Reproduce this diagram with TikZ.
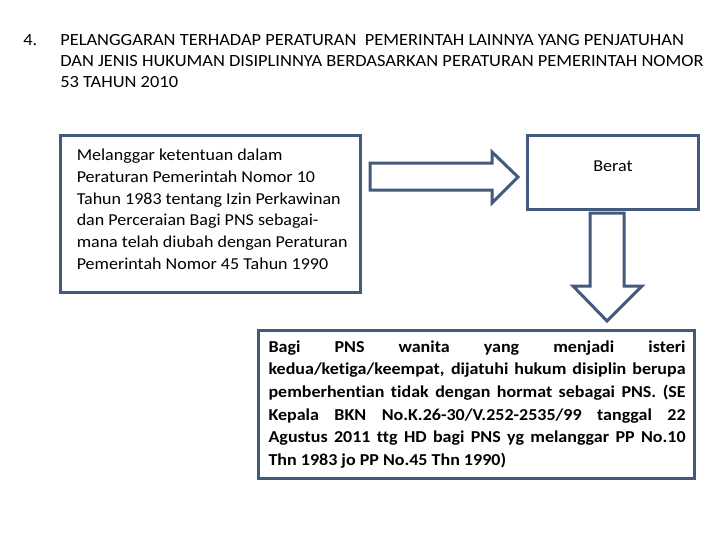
\documentclass[tikz,border=0pt]{standalone}
\usepackage{fontspec}
\setmainfont{Carlito}[FakeStretch=1.08,Ligatures=NoCommon]
\definecolor{frame}{RGB}{65,90,125}
\begin{document}
\begin{tikzpicture}[x=0.75pt,y=-0.75pt,
  box/.style={draw=frame,line width=2.25pt,fill=white},
  blockarrow/.style={draw=frame,line width=2.25pt,line join=miter,fill=white},
  txt/.style={inner sep=0pt,anchor=base west}]
\useasboundingbox (0,0) rectangle (720,540);
% title
\node[txt] (num) at (23,45) {\fontsize{12.8}{15.75}\selectfont 4.};
\node[txt] (title) at (60,45) {\vtop{\fontsize{12.8}{15.75}\selectfont
  \hbox{PELANGGARAN TERHADAP PERATURAN\ \ PEMERINTAH LAINNYA YANG PENJATUHAN}
  \hbox{DAN JENIS HUKUMAN DISIPLINNYA BERDASARKAN PERATURAN PEMERINTAH NOMOR}
  \hbox{53 TAHUN 2010}}};
% boxes
\draw[box] (60,135) rectangle (360,292);
\node[txt] (left) at (76.5,160.7) {\vtop{\fontsize{12.5}{16.3}\selectfont
  \hbox{Melanggar ketentuan dalam}
  \hbox{Peraturan Pemerintah Nomor 10}
  \hbox{Tahun 1983 tentang Izin Perkawinan}
  \hbox{dan Perceraian Bagi PNS sebagai-}
  \hbox{mana telah diubah dengan Peraturan}
  \hbox{Pemerintah Nomor 45 Tahun 1990}}};
\draw[box] (527,135) rectangle (698,209);
\node[inner sep=0pt,anchor=base] (berat) at (613,171.7) {\fontsize{12.5}{15}\selectfont Berat};
\draw[box] (258,330) rectangle (694,478);
\node[txt] (bottom) at (268.3,352) {\vtop{\fontsize{12.5}{17}\selectfont\bfseries
  \hbox{\makebox[312.75pt][s]{Bagi PNS wanita yang menjadi isteri}}
  \hbox{\makebox[312.75pt][s]{kedua/ketiga/keempat, dijatuhi hukum disiplin berupa}}
  \hbox{\makebox[312.75pt][s]{pemberhentian tidak dengan hormat sebagai PNS. (SE}}
  \hbox{\makebox[312.75pt][s]{Kepala BKN No.K.26-30/V.252-2535/99 tanggal 22}}
  \hbox{\makebox[312.75pt][s]{Agustus 2011 ttg HD bagi PNS yg melanggar PP No.10}}
  \hbox{Thn 1983 jo PP No.45 Thn 1990)}}};
% block arrows
\draw[blockarrow] (370,163) -- (492,163) -- (492,152) -- (518,177) -- (492,203) -- (492,190) -- (370,190) -- cycle;
\draw[blockarrow] (590,213) -- (624,213) -- (624,286) -- (642,286) -- (607,321) -- (573,286) -- (590,286) -- cycle;
\end{tikzpicture}
\end{document}
